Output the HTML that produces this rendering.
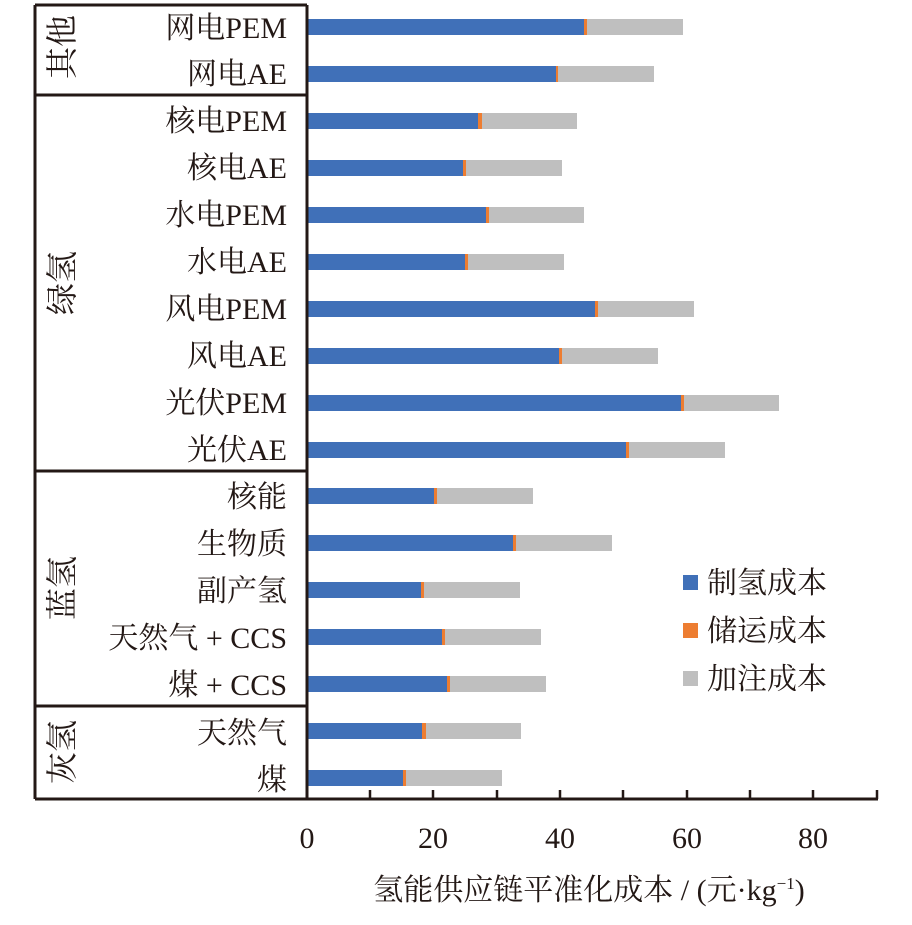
<!DOCTYPE html>
<html><head><meta charset="utf-8"><style>
html,body{margin:0;padding:0;background:#fff;}
svg text{font-family:"Liberation Serif","Noto Serif CJK SC",serif;fill:#231815;}
</style></head><body>
<svg width="912" height="920" xmlns="http://www.w3.org/2000/svg">
<g>
<rect x="308" y="19" width="276" height="16" fill="#4070b8"/><rect x="584" y="19" width="3" height="16" fill="#ed7d31"/><rect x="587" y="19" width="96" height="16" fill="#bfbfbf"/>
<rect x="308" y="66" width="248" height="16" fill="#4070b8"/><rect x="556" y="66" width="2" height="16" fill="#ed7d31"/><rect x="558" y="66" width="96" height="16" fill="#bfbfbf"/>
<rect x="308" y="113" width="170" height="16" fill="#4070b8"/><rect x="478" y="113" width="4" height="16" fill="#ed7d31"/><rect x="482" y="113" width="95" height="16" fill="#bfbfbf"/>
<rect x="308" y="160" width="155" height="16" fill="#4070b8"/><rect x="463" y="160" width="3" height="16" fill="#ed7d31"/><rect x="466" y="160" width="96" height="16" fill="#bfbfbf"/>
<rect x="308" y="207" width="178" height="16" fill="#4070b8"/><rect x="486" y="207" width="3" height="16" fill="#ed7d31"/><rect x="489" y="207" width="95" height="16" fill="#bfbfbf"/>
<rect x="308" y="254" width="157" height="16" fill="#4070b8"/><rect x="465" y="254" width="3" height="16" fill="#ed7d31"/><rect x="468" y="254" width="96" height="16" fill="#bfbfbf"/>
<rect x="308" y="301" width="287" height="16" fill="#4070b8"/><rect x="595" y="301" width="3" height="16" fill="#ed7d31"/><rect x="598" y="301" width="96" height="16" fill="#bfbfbf"/>
<rect x="308" y="348" width="251" height="16" fill="#4070b8"/><rect x="559" y="348" width="3" height="16" fill="#ed7d31"/><rect x="562" y="348" width="96" height="16" fill="#bfbfbf"/>
<rect x="308" y="395" width="373" height="16" fill="#4070b8"/><rect x="681" y="395" width="3" height="16" fill="#ed7d31"/><rect x="684" y="395" width="95" height="16" fill="#bfbfbf"/>
<rect x="308" y="442" width="318" height="16" fill="#4070b8"/><rect x="626" y="442" width="3" height="16" fill="#ed7d31"/><rect x="629" y="442" width="96" height="16" fill="#bfbfbf"/>
<rect x="308" y="488" width="126" height="16" fill="#4070b8"/><rect x="434" y="488" width="3" height="16" fill="#ed7d31"/><rect x="437" y="488" width="96" height="16" fill="#bfbfbf"/>
<rect x="308" y="535" width="205" height="16" fill="#4070b8"/><rect x="513" y="535" width="3" height="16" fill="#ed7d31"/><rect x="516" y="535" width="96" height="16" fill="#bfbfbf"/>
<rect x="308" y="582" width="113" height="16" fill="#4070b8"/><rect x="421" y="582" width="3" height="16" fill="#ed7d31"/><rect x="424" y="582" width="96" height="16" fill="#bfbfbf"/>
<rect x="308" y="629" width="134" height="16" fill="#4070b8"/><rect x="442" y="629" width="3" height="16" fill="#ed7d31"/><rect x="445" y="629" width="96" height="16" fill="#bfbfbf"/>
<rect x="308" y="676" width="139" height="16" fill="#4070b8"/><rect x="447" y="676" width="3" height="16" fill="#ed7d31"/><rect x="450" y="676" width="96" height="16" fill="#bfbfbf"/>
<rect x="308" y="723" width="114" height="16" fill="#4070b8"/><rect x="422" y="723" width="4" height="16" fill="#ed7d31"/><rect x="426" y="723" width="95" height="16" fill="#bfbfbf"/>
<rect x="308" y="770" width="95" height="16" fill="#4070b8"/><rect x="403" y="770" width="3" height="16" fill="#ed7d31"/><rect x="406" y="770" width="96" height="16" fill="#bfbfbf"/>
</g>
<g stroke="#231815" stroke-width="3" fill="none">
<line x1="35" y1="5" x2="307" y2="5"/>
<line x1="35" y1="5" x2="35" y2="799"/>
<line x1="307" y1="5" x2="307" y2="799"/>
<line x1="35" y1="95" x2="307" y2="95"/>
<line x1="35" y1="471" x2="307" y2="471"/>
<line x1="35" y1="706" x2="307" y2="706"/>
<line x1="35" y1="799" x2="878" y2="799"/>
</g>
<g stroke="#231815" stroke-width="2.5">
<line x1="370" y1="799" x2="370" y2="790"/><line x1="433" y1="799" x2="433" y2="790"/>
<line x1="497" y1="799" x2="497" y2="790"/><line x1="560" y1="799" x2="560" y2="790"/>
<line x1="623" y1="799" x2="623" y2="790"/><line x1="687" y1="799" x2="687" y2="790"/>
<line x1="750" y1="799" x2="750" y2="790"/><line x1="813" y1="799" x2="813" y2="790"/>
<line x1="877" y1="799" x2="877" y2="790"/>
</g>
<g font-size="30" text-anchor="middle">
<text x="307" y="848">0</text><text x="433" y="848">20</text><text x="560" y="848">40</text>
<text x="687" y="848">60</text><text x="813" y="848">80</text>
</g>
<text x="589" y="900" font-size="30" text-anchor="middle">氢能供应链平准化成本 / (元·kg<tspan font-size="17" dy="-11">−1</tspan><tspan dy="11">)</tspan></text>
<g font-size="30" text-anchor="end">
<text x="287" y="38">网电PEM</text><text x="287" y="84">网电AE</text>
<text x="287" y="131">核电PEM</text><text x="287" y="178">核电AE</text>
<text x="287" y="225">水电PEM</text><text x="287" y="272">水电AE</text>
<text x="287" y="319">风电PEM</text><text x="287" y="366">风电AE</text>
<text x="287" y="413">光伏PEM</text><text x="287" y="460">光伏AE</text>
<text x="287" y="507">核能</text><text x="287" y="554">生物质</text>
<text x="287" y="601">副产氢</text><text x="287" y="648">天然气 + CCS</text>
<text x="287" y="695">煤 + CCS</text><text x="287" y="743">天然气</text>
<text x="287" y="790">煤</text>
</g>
<g font-size="32" text-anchor="middle">
<text transform="translate(73,47) rotate(-90)">其他</text>
<text transform="translate(73,283) rotate(-90)">绿氢</text>
<text transform="translate(73,588) rotate(-90)">蓝氢</text>
<text transform="translate(73,752) rotate(-90)">灰氢</text>
</g>
<rect x="683" y="575" width="15" height="15" fill="#4070b8"/>
<rect x="683" y="623" width="15" height="15" fill="#ed7d31"/>
<rect x="683" y="671" width="15" height="15" fill="#bfbfbf"/>
<g font-size="30">
<text x="707" y="593">制氢成本</text><text x="707" y="641">储运成本</text><text x="707" y="689">加注成本</text>
</g>
</svg>
</body></html>
